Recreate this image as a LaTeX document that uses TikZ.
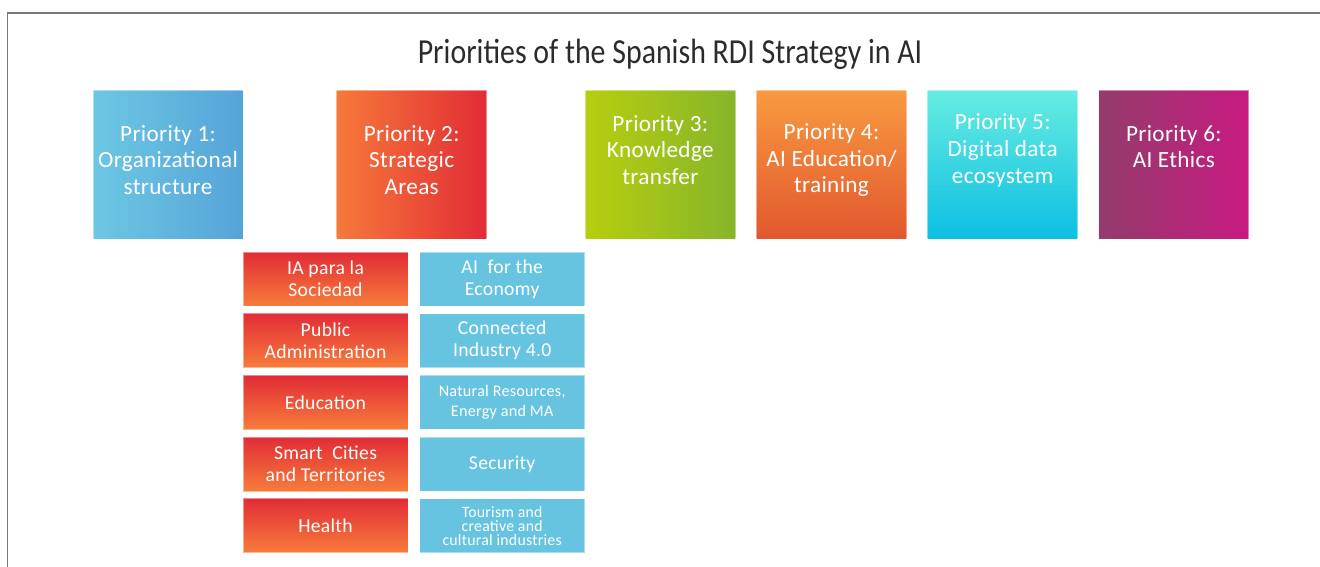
\documentclass[tikz,border=0pt]{standalone}
\usepackage{fontspec}
\setmainfont{Carlito}[LetterSpace=1.5]
\newfontfamily\titlefont{Carlito}[FakeStretch=0.85]
\usetikzlibrary{positioning}

\definecolor{framegray}{HTML}{7A7A7A}
\definecolor{titlegray}{HTML}{2B2B2B}
\definecolor{p1a}{HTML}{6DC7E3}
\definecolor{p1b}{HTML}{55A4D8}
\definecolor{p2a}{HTML}{F6793A}
\definecolor{p2b}{HTML}{E22C36}
\definecolor{p3a}{HTML}{B7CE0E}
\definecolor{p3b}{HTML}{86B52B}
\definecolor{p4a}{HTML}{F89A40}
\definecolor{p4b}{HTML}{E2572E}
\definecolor{p5a}{HTML}{67ECE1}
\definecolor{p5b}{HTML}{0CBFE3}
\definecolor{p6a}{HTML}{933C6C}
\definecolor{p6b}{HTML}{C81A80}
\definecolor{socTop}{HTML}{E22C36}
\definecolor{socBot}{HTML}{F77C3B}
\definecolor{ecoBlue}{HTML}{67C4E1}

\tikzset{
	prio/.style={minimum width=3cm, minimum height=2.98cm, inner sep=0pt,
		draw=white, draw opacity=0.45, line width=0.4pt},
	ptext/.style={text=white, align=center, font=\fontsize{13.2}{15.3}\selectfont},
	area/.style={minimum width=3.3cm, minimum height=1.08cm, inner sep=0pt,
		draw=white, draw opacity=0.45, line width=0.4pt,
		text=white, align=center, font=\fontsize{11.2}{12.5}\selectfont},
	soc/.style={area, top color=socTop, bottom color=socBot},
	eco/.style={area, fill=ecoBlue},
	small/.style={font=\fontsize{9.2}{11}\selectfont},
	tiny/.style={font=\fontsize{9}{8}\selectfont}
}

\begin{document}
\begin{tikzpicture}[x=0.02cm, y=-0.02cm]
	\useasboundingbox (0,0) rectangle (1320,567);
	\draw[framegray, line width=1.1pt] (7.5,567) -- (7.5,13) -- (1320,13);

	\node[text=titlegray, font=\titlefont\fontsize{20}{22}\selectfont] (title) at (670,54)
		{Priorities of the Spanish RDI Strategy in AI};

	% priority boxes
	\node[prio, left color=p1a, right color=p1b] (p1) at (168,164.5) {};
	\node[prio, left color=p2a, right color=p2b, right=1.86cm of p1] (p2) {};
	\node[prio, left color=p3a, right color=p3b, right=1.96cm of p2] (p3) {};
	\node[prio, top color=p4a, bottom color=p4b, right=0.41cm of p3] (p4) {};
	\node[prio, top color=p5a, bottom color=p5b, right=0.41cm of p4] (p5) {};
	\node[prio, left color=p6a, right color=p6b, right=0.41cm of p5] (p6) {};

	\node[ptext] (t1) at ([yshift=2.5pt]p1) {Priority 1:\\Organizational\\structure};
	\node[ptext] (t2) at ([yshift=2.5pt]p2) {Priority 2:\\Strategic\\Areas};
	\node[ptext] (t3) at ([yshift=8.2pt]p3) {Priority 3:\\Knowledge\\transfer};
	\node[ptext] (t4) at ([yshift=2.5pt]p4) {Priority 4:\\AI Education/\\training};
	\node[ptext] (t5) at ([yshift=8.2pt]p5) {Priority 5:\\Digital data\\ecosystem};
	\node[ptext] (t6) at ([yshift=10.2pt]p6) {Priority 6:\\AI Ethics};

	% strategic areas
	\node[soc] (s1) at (325.5,279) {IA para la\\Sociedad};
	\node[soc, below=0.14cm of s1] (s2) {Public\\Administration};
	\node[soc, below=0.14cm of s2] (s3) {Education};
	\node[soc, below=0.14cm of s3] (s4) {Smart~ Cities\\and Territories};
	\node[soc, below=0.14cm of s4] (s5) {Health};

	\node[eco, right=0.22cm of s1] (e1) {AI~ for the\\Economy};
	\node[eco, right=0.22cm of s2] (e2) {Connected\\Industry 4.0};
	\node[eco, small, right=0.22cm of s3] (e3) {Natural Resources,\\Energy and MA};
	\node[eco, right=0.22cm of s4] (e4) {Security};
	\node[eco, tiny, right=0.22cm of s5] (e5) {Tourism and\\creative and\\cultural industries};
\end{tikzpicture}
\end{document}
